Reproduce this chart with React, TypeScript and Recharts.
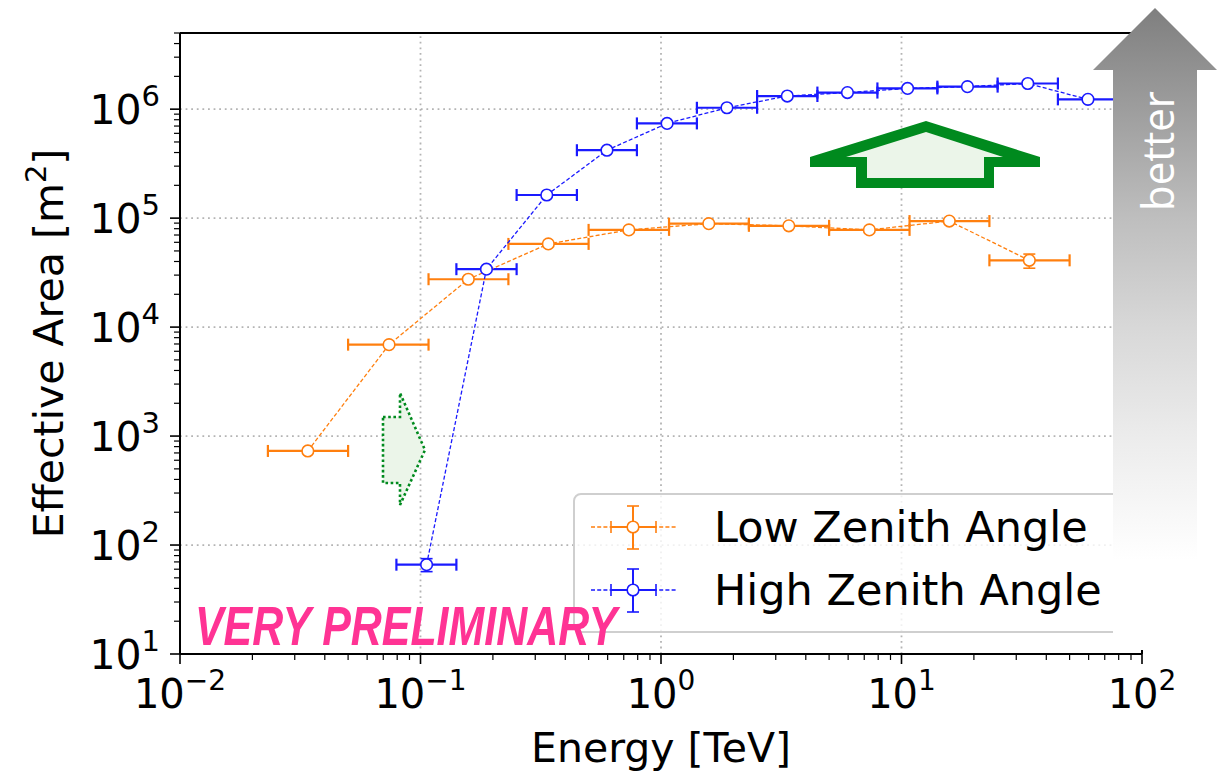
import React from 'react'
import {
  ScatterChart,
  Scatter,
  XAxis,
  YAxis,
  ErrorBar,
  ReferenceLine,
  Legend,
} from 'recharts'

const ORANGE = '#ff7f0e'
const BLUE = '#1a1aff'
const GRID = '#b4b4b4'
const FONT = '"DejaVu Sans", sans-serif'

// Low zenith angle: bin centres, bin edges [TeV] and effective area [m^2]
const lowEnergy = [0.034, 0.074, 0.158, 0.34, 0.735, 1.58, 3.4, 7.35, 15.8, 34]
const lowEdgeLo = [0.0232, 0.05, 0.108, 0.232, 0.5, 1.08, 2.32, 5.0, 10.8, 23.2]
const lowEdgeHi = [0.05, 0.108, 0.232, 0.5, 1.08, 2.32, 5.0, 10.8, 23.2, 50]
const lowArea = [730, 6900, 27500, 58000, 78000, 89000, 85000, 78000, 94000, 41000]
const lowAreaLo = [null, null, null, null, null, null, null, null, null, 34700]
const lowAreaHi = [null, null, null, null, null, null, null, null, null, 46800]

// High zenith angle
const highEnergy = [0.106, 0.188, 0.335, 0.596, 1.06, 1.88, 3.35, 5.96, 10.6, 18.8, 33.5, 59.6]
const highEdgeLo = [0.0794, 0.141, 0.251, 0.447, 0.794, 1.41, 2.51, 4.47, 7.94, 14.1, 25.1, 44.7]
const highEdgeHi = [0.141, 0.251, 0.447, 0.794, 1.41, 2.51, 4.47, 7.94, 14.1, 25.1, 44.7, 79.4]
const highArea = [66, 34000, 163000, 420000, 740000, 1030000, 1320000, 1420000, 1550000, 1610000, 1720000, 1230000]
const highAreaLo = [57, null, null, null, null, null, null, null, null, null, null, null]
const highAreaHi = [75, null, null, null, null, null, null, null, null, null, null, null]

const xMajor = [0.01, 0.1, 1, 10, 100]
const yMajor = [10, 100, 1e3, 1e4, 1e5, 1e6]
const minorSteps = [2, 3, 4, 5, 6, 7, 8, 9]
const X_DOMAIN: [number, number] = [0.01, 100]
const Y_DOMAIN: [number, number] = [10, 5e6]

const withMinors = (majors: number[], max: number) =>
  majors.flatMap((m) => [m, ...minorSteps.map((s) => s * m).filter((v) => v <= max)])
    .filter((v) => v <= max)

const xTicks = withMinors(xMajor, X_DOMAIN[1])
const yTicks = withMinors(yMajor, Y_DOMAIN[1])

type Row = { x: number; y: number; xErr: number[]; yErr: number[] | null }

function buildRows(
  energy: number[],
  lo: number[],
  hi: number[],
  area: number[],
  aLo: (number | null)[],
  aHi: (number | null)[]
): Row[] {
  return energy.map((e, i) => ({
    x: e,
    y: area[i],
    xErr: [e - lo[i], hi[i] - e],
    yErr: aLo[i] == null ? null : [area[i] - (aLo[i] as number), (aHi[i] as number) - area[i]],
  }))
}

const lowRows = buildRows(lowEnergy, lowEdgeLo, lowEdgeHi, lowArea, lowAreaLo, lowAreaHi)
const highRows = buildRows(highEnergy, highEdgeLo, highEdgeHi, highArea, highAreaLo, highAreaHi)

const series = [
  { name: 'Low Zenith Angle', color: ORANGE, rows: lowRows },
  { name: 'High Zenith Angle', color: BLUE, rows: highRows },
]

function expOf(v: number) {
  const l = Math.log10(v)
  const e = Math.round(l)
  return { e, major: Math.abs(l - e) < 1e-6 }
}

const supText = (e: number) => (e < 0 ? '\u2212' + -e : String(e))

function XTick(props: any) {
  const { x, y, payload } = props
  const { e, major } = expOf(payload.value)
  return (
    <g>
      <line x1={x} x2={x} y1={y} y2={y + (major ? 10 : 6)} stroke="#000" strokeWidth={major ? 1.6 : 1.2} />
      {major && (
        <text x={x} y={y + 54} textAnchor="middle" fontFamily={FONT} fontSize={40} fill="#000">
          10
          <tspan dy={-18} fontSize={28}>
            {supText(e)}
          </tspan>
        </text>
      )}
    </g>
  )
}

function YTick(props: any) {
  const { x, y, payload } = props
  const { e, major } = expOf(payload.value)
  return (
    <g>
      <line x1={x - (major ? 10 : 6)} x2={x} y1={y} y2={y} stroke="#000" strokeWidth={major ? 1.6 : 1.2} />
      {major && (
        <text x={x - 20} y={y + 15} textAnchor="end" fontFamily={FONT} fontSize={41} fill="#000">
          10
          <tspan dy={-18} fontSize={29}>
            {supText(e)}
          </tspan>
        </text>
      )}
    </g>
  )
}

const marker = (color: string) => (p: any) =>
  <circle cx={p.cx} cy={p.cy} r={5.8} fill="#fff" stroke={color} strokeWidth={1.6} />

function LegendSymbol({ color, cy }: { color: string; cy: number }) {
  const cx = 60
  return (
    <g stroke={color}>
      <line x1={18} x2={104} y1={cy} y2={cy} strokeWidth={1.3} strokeDasharray="4 2.2" />
      <line x1={38} x2={83} y1={cy} y2={cy} strokeWidth={2} />
      <line x1={38} x2={38} y1={cy - 6} y2={cy + 6} strokeWidth={1.6} />
      <line x1={83} x2={83} y1={cy - 6} y2={cy + 6} strokeWidth={1.6} />
      <line x1={cx} x2={cx} y1={cy - 21} y2={cy + 22} strokeWidth={2} />
      <line x1={cx - 6} x2={cx + 6} y1={cy - 21} y2={cy - 21} strokeWidth={1.6} />
      <line x1={cx - 6} x2={cx + 6} y1={cy + 22} y2={cy + 22} strokeWidth={1.6} />
      <circle cx={cx} cy={cy} r={5.8} fill="#fff" strokeWidth={1.6} />
    </g>
  )
}

function LegendBox() {
  return (
    <div
      style={{
        width: 562,
        height: 140,
        boxSizing: 'border-box',
        background: 'rgba(255,255,255,0.8)',
        border: '2px solid #cfcfcf',
        borderRadius: 8,
      }}
    >
      <svg width={562} height={140} style={{ position: 'absolute', left: 0, top: 0 }}>
        {series.map((s, i) => (
          <g key={s.name}>
            <LegendSymbol color={s.color} cy={34 + i * 63} />
            <text x={141} y={34 + i * 63 + 15} fontFamily={FONT} fontSize={43} fill="#000">
              {s.name}
            </text>
          </g>
        ))}
      </svg>
    </div>
  )
}

function Overlay() {
  return (
    <svg
      width={1231}
      height={771}
      style={{ position: 'absolute', left: 0, top: 0, pointerEvents: 'none' }}
    >
      <defs>
        <linearGradient id="betterFade" gradientUnits="userSpaceOnUse" x1={0} y1={8} x2={0} y2={560}>
          <stop offset="0" stopColor="#7f7f7f" />
          <stop offset="0.38" stopColor="#bebebe" />
          <stop offset="0.58" stopColor="#d8d8d8" />
          <stop offset="0.78" stopColor="#ececec" />
          <stop offset="1" stopColor="#ffffff" />
        </linearGradient>
      </defs>

      {/* large "improvement" arrow */}
      <polygon
        points="926,121 1040,157 1040,167 994,167 994,188 856,188 856,167 810,167 810,157"
        fill="#008a1e"
      />
      <polygon
        points="926,132 1003,157 984,157 984,178 867,178 867,157 846,157"
        fill="#ebf5e9"
      />

      {/* threshold shift arrow */}
      <polygon
        points="383,417 400,417 400,393 425,450 400,505 400,483 383,483"
        fill="#ebf5e9"
        stroke="#008a1e"
        strokeWidth={2.6}
        strokeDasharray="2.6 2.6"
      />

      <text
        x={195}
        y={645}
        fontFamily='"Liberation Sans", Arial, sans-serif'
        fontWeight="bold"
        fontStyle="italic"
        fontSize={55}
        fill="#ff3394"
        textLength={422}
        lengthAdjust="spacingAndGlyphs"
      >
        VERY PRELIMINARY
      </text>

      <polygon
        points="1155,8 1217,70 1197,70 1197,650 1113,650 1113,70 1093,70"
        fill="url(#betterFade)"
      />
      <text
        transform="translate(1174,151) rotate(-90)"
        textAnchor="middle"
        fontFamily='"Open Sans", sans-serif'
        fontSize={44}
        fill="#fff"
        textLength={120}
        lengthAdjust="spacingAndGlyphs"
      >
        better
      </text>
    </svg>
  )
}

export default function App() {
  return (
    <div style={{ position: 'absolute', left: 0, top: 0, width: 1231, height: 771, background: '#fff' }}>
      <ScatterChart width={1231} height={771} margin={{ top: 33, right: 89, bottom: 0, left: 0 }}>
        <XAxis
          type="number"
          dataKey="x"
          scale="log"
          domain={X_DOMAIN}
          allowDataOverflow
          ticks={xTicks}
          interval={0}
          tick={<XTick />}
          tickLine={false}
          tickSize={0}
          tickMargin={0}
          height={117}
          axisLine={{ stroke: '#000', strokeWidth: 2 }}
          label={{
            content: ({ viewBox }: any) => (
              <text
                x={viewBox.x + viewBox.width / 2}
                y={viewBox.y + 108}
                textAnchor="middle"
                fontFamily={FONT}
                fontSize={41}
                fill="#000"
              >
                Energy [TeV]
              </text>
            ),
          }}
        />
        <YAxis
          type="number"
          dataKey="y"
          scale="log"
          domain={Y_DOMAIN}
          allowDataOverflow
          ticks={yTicks}
          interval={0}
          tick={<YTick />}
          tickLine={false}
          tickSize={0}
          tickMargin={0}
          width={180}
          axisLine={{ stroke: '#000', strokeWidth: 2 }}
          label={{
            content: ({ viewBox }: any) => {
              const cy = viewBox.y + viewBox.height / 2
              return (
                <text
                  transform={`translate(63,${cy}) rotate(-90)`}
                  textAnchor="middle"
                  fontFamily={FONT}
                  fontSize={41}
                  fill="#000"
                >
                  Effective Area [m
                  <tspan dy={-17} fontSize={29}>2</tspan>
                  <tspan dy={17}>]</tspan>
                </text>
              )
            },
          }}
        />

        {xMajor.slice(1, -1).map((v) => (
          <ReferenceLine key={'gx' + v} x={v} stroke={GRID} strokeWidth={1.8} strokeDasharray="1.8 3.8" />
        ))}
        {yMajor.slice(1).map((v) => (
          <ReferenceLine key={'gy' + v} y={v} stroke={GRID} strokeWidth={1.8} strokeDasharray="1.8 3.8" />
        ))}
        <ReferenceLine y={Y_DOMAIN[1]} stroke="#000" strokeWidth={2} />
        <ReferenceLine x={X_DOMAIN[1]} stroke="#000" strokeWidth={2} />

        {series.map((s) => (
          <Scatter
            key={s.name}
            name={s.name}
            data={s.rows}
            dataKey="y"
            line={{ stroke: s.color, strokeWidth: 1.3, strokeDasharray: '4 2.2' }}
            lineType="joint"
            shape={marker(s.color)}
            isAnimationActive={false}
          >
            <ErrorBar dataKey="xErr" direction="x" width={6} stroke={s.color} strokeWidth={2.2} />
            <ErrorBar dataKey="yErr" direction="y" width={6} stroke={s.color} strokeWidth={1.6} />
          </Scatter>
        ))}

        <Legend
          layout="vertical"
          align="center"
          verticalAlign="middle"
          wrapperStyle={{ left: 573, top: 493, width: 562, height: 140 }}
          content={() => <LegendBox />}
        />
      </ScatterChart>
      <Overlay />
    </div>
  )
}
